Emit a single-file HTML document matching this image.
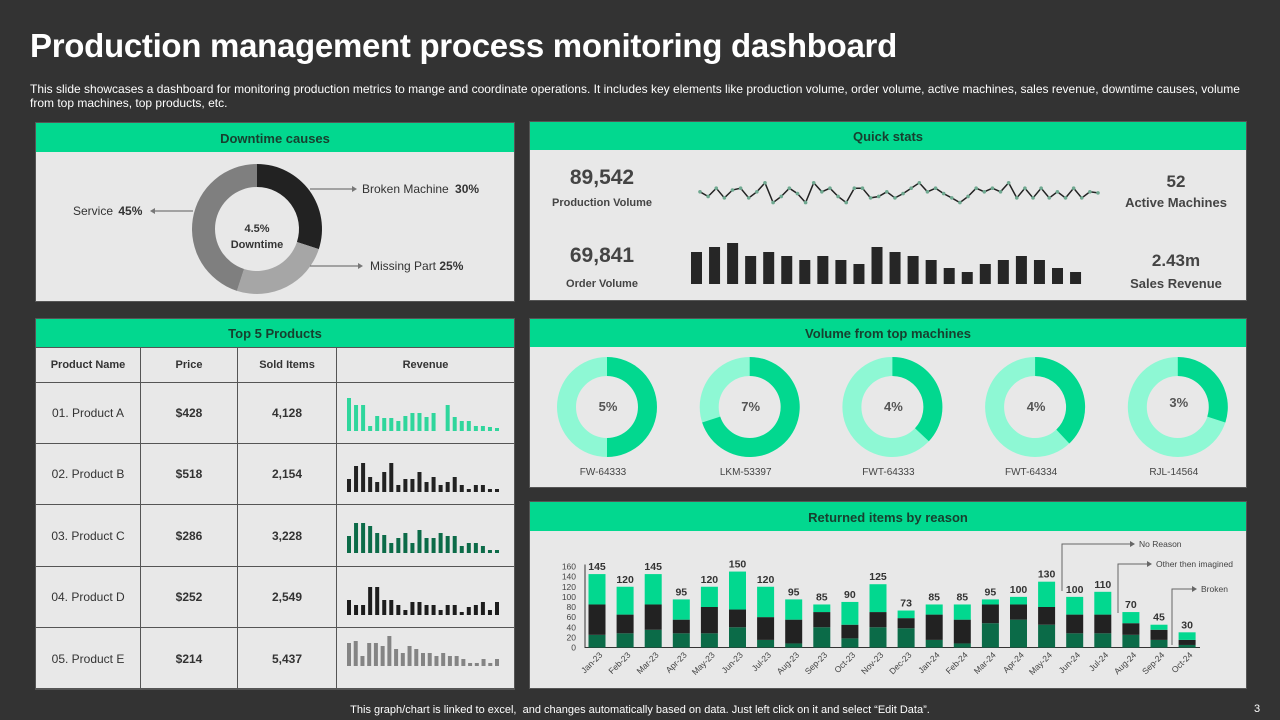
<!DOCTYPE html>
<html><head><meta charset="utf-8">
<style>
*{margin:0;padding:0;box-sizing:border-box}
body{width:1280px;height:720px;background:#333333;font-family:"Liberation Sans",sans-serif;position:relative;overflow:hidden}
.abs{position:absolute}
.panel{position:absolute;background:#e8e8e8;border:1px solid #555}
.hdr{position:absolute;left:0;top:0;right:0;background:#02d88f;color:#17402f;font-weight:bold;font-size:13px;text-align:center}
svg{position:absolute;left:0;top:0}
table{border-collapse:collapse}
td{border:1px solid #555;text-align:center;color:#333;font-size:12px}
</style></head><body>
<div class="abs" style="left:30px;top:27px;color:#fff;font-size:33px;font-weight:bold;letter-spacing:-0.3px">Production management process monitoring dashboard</div>
<div class="abs" style="left:30px;top:82px;width:1240px;color:#fff;font-size:12px;line-height:14px;letter-spacing:0px;white-space:nowrap">This slide showcases a dashboard for monitoring production metrics to mange and coordinate operations. It includes key elements like production volume, order volume, active machines, sales revenue, downtime causes, volume<br>from top machines, top products, etc.</div>

<div class="panel" style="left:35px;top:122px;width:480px;height:180px">
<div class="hdr" style="height:29px;line-height:31px">Downtime causes</div>
</div>
<div class="panel" style="left:529px;top:121px;width:718px;height:180px">
<div class="hdr" style="height:28px;line-height:29px">Quick stats</div>
</div>
<div class="panel" style="left:35px;top:318px;width:480px;height:371px">
<div class="hdr" style="height:28px;line-height:30px">Top 5 Products</div>
<table class="abs" style="left:-1px;top:28px;width:480px">
<tr style="height:35px;font-weight:bold"><td style="width:105px;font-size:11px;font-weight:bold">Product Name</td><td style="width:97px;font-size:11px;font-weight:bold">Price</td><td style="width:99px;font-size:11px;font-weight:bold">Sold Items</td><td style="font-size:11px;font-weight:bold">Revenue</td></tr>
<tr style="height:61px"><td>01. Product A</td><td style="font-weight:bold">$428</td><td style="font-weight:bold">4,128</td><td></td></tr>
<tr style="height:61px"><td>02. Product B</td><td style="font-weight:bold">$518</td><td style="font-weight:bold">2,154</td><td></td></tr>
<tr style="height:62px"><td>03. Product C</td><td style="font-weight:bold">$286</td><td style="font-weight:bold">3,228</td><td></td></tr>
<tr style="height:61px"><td>04. Product D</td><td style="font-weight:bold">$252</td><td style="font-weight:bold">2,549</td><td></td></tr>
<tr style="height:62px"><td>05. Product E</td><td style="font-weight:bold">$214</td><td style="font-weight:bold">5,437</td><td></td></tr>
</table>
</div>
<div class="panel" style="left:529px;top:318px;width:718px;height:170px">
<div class="hdr" style="height:28px;line-height:29px">Volume from top machines</div>
</div>
<div class="panel" style="left:529px;top:501px;width:718px;height:188px">
<div class="hdr" style="height:29px;line-height:31px">Returned items by reason</div>
</div>

<div class="abs" style="left:0;width:1280px;top:704px;text-align:center;color:#fff;font-size:11px">This graph/chart is linked to excel, &nbsp;and changes automatically based on data. Just left click on it and select “Edit Data”.</div>
<div class="abs" style="left:1254px;top:703px;color:#fff;font-size:11px">3</div>

<svg id="svg" width="1280" height="720"></svg>

<script>
// Downtime donut
const downLabels=["Broken Machine","Missing Part","Service"];
const downValues=[30,25,45];
// Machine donuts
const machNames=["FW-64333","LKM-53397","FWT-64333","FWT-64334","RJL-14564"];
const machPct=["5%","7%","4%","4%","3%"];
const machShare=[50,70,37,38,30];
// Quick stats sparkline
const lineVals=[45,32,55,28,50,55,28,45,70,15,32,55,40,15,70,45,55,32,15,55,55,28,32,45,28,40,55,70,45,55,40,28,15,32,55,45,55,45,70,28,55,28,55,28,45,28,55,28,45,42];
const qBars=[32,37,41,28,32,28,24,28,24,20,37,32,28,24,16,12,20,24,28,24,16,12];
// Product revenue sparklines
const prodA=[33,26,26,5,15,13,13,10,15,18,18,14,18,0,26,14,10,10,5,5,4,3];
const prodB=[13,26,29,15,10,20,29,7,13,13,20,10,15,7,10,15,7,3,7,7,3,3];
const prodC=[17,30,30,27,20,18,10,15,20,10,23,15,15,20,17,17,7,10,10,7,3,3];
const prodD=[15,10,10,28,28,15,15,10,5,13,13,10,10,5,10,10,3,8,10,13,5,13];
const prodE=[23,25,10,23,23,20,30,17,13,20,17,13,13,10,13,10,10,7,3,3,7,3,7];
// Returned items
const months=["Jan-23","Feb-23","Mar-23","Apr-23","May-23","Jun-23","Jul-23","Aug-23","Sep-23","Oct-23","Nov-23","Dec-23","Jan-24","Feb-24","Mar-24","Apr-24","May-24","Jun-24","Jul-24","Aug-24","Sep-24","Oct-24"];
const brokenVals=[25,28,35,28,28,40,15,8,40,18,40,38,15,8,48,55,45,28,28,25,15,5];
const otherVals=[60,37,50,27,52,35,45,47,30,27,30,20,50,47,37,30,35,37,37,23,20,10];
const totals=[145,120,145,95,120,150,120,95,85,90,125,73,85,85,95,100,130,100,110,70,45,30];
const yTicks=[0,20,40,60,80,100,120,140,160];

const S=document.getElementById('svg');
const NS='http://www.w3.org/2000/svg';
function mk(tag,attrs,parent){const e=document.createElementNS(NS,tag);for(const k in attrs)e.setAttribute(k,attrs[k]);(parent||S).appendChild(e);return e;}
function arc(cx,cy,r1,r2,a0,a1){
  const p=(r,a)=>[cx+r*Math.sin(a),cy-r*Math.cos(a)];
  const lg=(a1-a0)>Math.PI?1:0;
  const [x0,y0]=p(r2,a0),[x1,y1]=p(r2,a1),[x2,y2]=p(r1,a1),[x3,y3]=p(r1,a0);
  return `M${x0},${y0}A${r2},${r2} 0 ${lg} 1 ${x1},${y1}L${x2},${y2}A${r1},${r1} 0 ${lg} 0 ${x3},${y3}Z`;
}
function txt(x,y,s,attrs){const t=mk('text',Object.assign({x:x,y:y,'font-family':'Liberation Sans, sans-serif'},attrs));t.textContent=s;return t;}

// downtime donut
const dCols=["#222222","#a6a6a6","#7f7f7f"];
let tot=downValues.reduce((a,b)=>a+b,0),acc=0;
downValues.forEach((v,i)=>{
  const a0=acc/tot*2*Math.PI;acc+=v;const a1=acc/tot*2*Math.PI;
  const p=mk('path',{d:arc(257,229,42,65,a0,a1),fill:dCols[i]});
  
  
});
let t=txt(257,232,"4.5%",{'text-anchor':'middle','font-size':11,'font-weight':'bold',fill:'#333'});

t=txt(257,248,"Downtime",{'text-anchor':'middle','font-size':11,'font-weight':'bold',fill:'#333'});

// callouts
mk('path',{d:'M310,189H352',stroke:'#777','stroke-width':1.2});mk('path',{d:'M352,186L357,189L352,192Z',fill:'#777'});
mk('path',{d:'M310,266H358',stroke:'#777','stroke-width':1.2});mk('path',{d:'M358,263L363,266L358,269Z',fill:'#777'});
mk('path',{d:'M193,211H155',stroke:'#777','stroke-width':1.2});mk('path',{d:'M155,208L150,211L155,214Z',fill:'#777'});
t=txt(362,193,downLabels[0]+" ",{'font-size':12,fill:'#333'});

const ts1=mk('tspan',{'font-weight':'bold',dx:3},t);ts1.textContent=downValues[0]+"%";
t=txt(370,270,downLabels[1]+" ",{'font-size':12,fill:'#333'});

const ts2=mk('tspan',{'font-weight':'bold'},t);ts2.textContent=downValues[1]+"%";
t=txt(73,215,downLabels[2]+" ",{'font-size':12,fill:'#333'});

const ts3=mk('tspan',{'font-weight':'bold',dx:2},t);ts3.textContent=downValues[2]+"%";

// quick stats text
function qs(x,y,s,size,name){const e=txt(x,y,s,{'text-anchor':'middle','font-size':size,'font-weight':'bold',fill:'#444'});}
qs(602,184,"89,542",21,'production-volume-value');qs(602,206,"Production Volume",11,'production-volume-label');
qs(602,262,"69,841",21,'order-volume-value');qs(602,287,"Order Volume",11,'order-volume-label');
qs(1176,187,"52",17,'active-machines-value');qs(1176,207,"Active Machines",13,'active-machines-label');
qs(1176,266,"2.43m",17,'sales-revenue-value');qs(1176,288,"Sales Revenue",13,'sales-revenue-label');

// sparkline
const lx=i=>700+i*(1098-700)/(lineVals.length-1);
const ly=v=>208-v*0.36;
let d='';lineVals.forEach((v,i)=>{d+=(i?'L':'M')+lx(i)+','+ly(v);});
const pl=mk('path',{d:d,fill:'none',stroke:'#222','stroke-width':1.5});

lineVals.forEach((v,i)=>{const c=mk('circle',{cx:lx(i),cy:ly(v),r:1.8,fill:'#6fa890'});
});
// quick bars
const qx=i=>691+i*18.05, qy=v=>v*1.0;
qBars.forEach((v,i)=>{const r=mk('rect',{x:qx(i),y:284-qy(v),width:11,height:qy(v),fill:'#262626'});
});

// product sparklines
const prodSeries=[prodA,prodB,prodC,prodD,prodE];
const prodCols=["#2fd69c","#222222","#0c6b48","#1c1c1c","#848484"];
const prodBase=[431,492,553,615,666];
prodSeries.forEach((arr,k)=>{
  const step=(495-347)/(arr.length-1);
  arr.forEach((v,i)=>{
    if(v<=0)return;
    const r=mk('rect',{x:347+i*step,y:prodBase[k]-v,width:4,height:v,fill:prodCols[k]});
    
  });
});

// machine donuts
machNames.forEach((n,i)=>{
  const cx=607+i*142.7, cy=407;
  const bg=mk('circle',{cx:cx,cy:cy,r:40.5,fill:'none',stroke:'#8ef8d4','stroke-width':19});
  
  const p=mk('path',{d:arc(cx,cy,31,50,0,machShare[i]/100*2*Math.PI*0.9999),fill:'#02d88f'});
  
  let e=txt(cx+1,i==4?407:411,machPct[i],{'text-anchor':'middle','font-size':13,'font-weight':'bold',fill:'#555'});
  
  e=txt(cx-4,475,n,{'text-anchor':'middle','font-size':10,fill:'#444'});
  
});

// returned items chart
const y0=647.5, yS=81/160;
const Y=v=>y0-v*yS;
const X=i=>597+i*28.1;
const bw=17;
mk('path',{d:`M585,${Y(160)-2}V${y0}H1200`,stroke:'#333','stroke-width':1,fill:'none'});
yTicks.forEach(v=>{const e=txt(576,Y(v)+3,v,{'text-anchor':'end','font-size':8.5,fill:'#444'});
});
months.forEach((m,i)=>{
  const b=brokenVals[i],o=otherVals[i],tt=totals[i];
  let r=mk('rect',{x:X(i)-bw/2,y:Y(b),width:bw,height:b*yS,fill:'#0b6b48'});
  
  r=mk('rect',{x:X(i)-bw/2,y:Y(b+o),width:bw,height:o*yS,fill:'#222'});
  
  r=mk('rect',{x:X(i)-bw/2,y:Y(tt),width:bw,height:(tt-b-o)*yS,fill:'#02d88f'});
  
  let e=txt(X(i),Y(tt)-4,tt,{'text-anchor':'middle','font-size':10.5,'font-weight':'bold',fill:'#333'});
  
  e=txt(X(i)+6,y0+8,m,{'text-anchor':'end','font-size':8.5,fill:'#444',transform:`rotate(-45 ${X(i)+6} ${y0+8})`});
  
});
// annotations
function ann(x,yTop,yBot,x2,label,name){
  mk('path',{d:`M${x},${yBot}V${yTop}H${x2}`,stroke:'#666','stroke-width':1,fill:'none'});
  mk('path',{d:`M${x2},${yTop-3}L${x2+5},${yTop}L${x2},${yTop+3}Z`,fill:'#666'});
  const e=txt(x2+9,yTop+3,label,{'font-size':8.5,fill:'#444'});
  
}
ann(1062,544,591,1130,"No Reason",'legend-no-reason');
ann(1118,564,613,1147,"Other then imagined",'legend-other');
ann(1172,589,645,1192,"Broken",'legend-broken');
</script>
</body></html>
